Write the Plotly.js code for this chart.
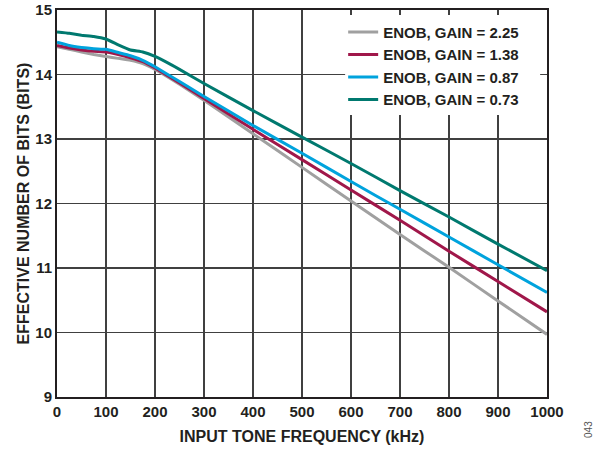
<!DOCTYPE html>
<html>
<head>
<meta charset="utf-8">
<script src="https://cdn.plot.ly/plotly-3.0.1.min.js"></script>
<style>html,body{margin:0;padding:0;background:#fff;}#chart{width:607px;height:450px;}</style>
</head>
<body>
<div id="chart"></div>
<script>
const freq = [0, 25, 50, 75, 100, 125, 150, 175, 200, 250, 300, 400, 500, 600, 700, 800, 900, 1000];
const enobGain225 = [14.43, 14.39, 14.35, 14.31, 14.28, 14.25, 14.22, 14.17, 14.08, 13.85, 13.60, 13.08, 12.56, 12.04, 11.52, 11.01, 10.49, 9.97];
const enobGain138 = [14.45, 14.41, 14.38, 14.36, 14.35, 14.31, 14.26, 14.20, 14.10, 13.87, 13.63, 13.15, 12.68, 12.21, 11.74, 11.26, 10.79, 10.32];
const enobGain087 = [14.50, 14.45, 14.42, 14.40, 14.39, 14.34, 14.29, 14.22, 14.12, 13.89, 13.66, 13.21, 12.78, 12.34, 11.91, 11.48, 11.05, 10.62];
const enobGain073 = [14.66, 14.64, 14.61, 14.59, 14.55, 14.46, 14.38, 14.35, 14.28, 14.08, 13.86, 13.44, 13.03, 12.62, 12.20, 11.79, 11.37, 10.96];
const seriesNames = ["ENOB, GAIN = 2.25", "ENOB, GAIN = 1.38", "ENOB, GAIN = 0.87", "ENOB, GAIN = 0.73"];
const xTicks = [0, 100, 200, 300, 400, 500, 600, 700, 800, 900, 1000];
const yTicks = [9, 10, 11, 12, 13, 14, 15];

const colors = ["#A0A0A0", "#A0174A", "#00A3DD", "#00796F"];
const seriesData = [enobGain225, enobGain138, enobGain087, enobGain073];
const font = "Arial, 'Liberation Sans', sans-serif";
const txt = "#231F20";

const traces = seriesData.map((ys, i) => ({
  x: freq, y: ys, name: seriesNames[i], type: "scatter", mode: "lines",
  line: {color: colors[i], width: 3, shape: "spline", smoothing: 0.3}
}));

const layout = {
  width: 607, height: 450,
  margin: {l: 57, r: 60, t: 10, b: 53},
  paper_bgcolor: "#fff", plot_bgcolor: "#fff",
  font: {family: font, color: txt},
  showlegend: true,
  legend: {
    x: 0.584, y: 0.985, xanchor: "left", yanchor: "top",
    bgcolor: "rgba(255,255,255,0)", borderwidth: 0,
    font: {family: font, size: 15, color: txt, weight: "bold"},
    tracegroupgap: 0, itemwidth: 30
  },
  shapes: [{
    type: "rect", xref: "paper", yref: "paper", layer: "above",
    x0: 0.588, x1: 0.986, y0: 0.729, y1: 0.987,
    fillcolor: "#ffffff", opacity: 1, line: {width: 0}
  }],
  xaxis: {
    range: [0, 1000], tickvals: xTicks, ticktext: xTicks.map(String),
    showgrid: true, gridcolor: "#404040", gridwidth: 1.2,
    showline: true, linecolor: "#231F20", linewidth: 2, mirror: true,
    ticks: "", zeroline: false,
    tickfont: {family: font, size: 15, color: txt, weight: "bold"},
    title: {text: "INPUT TONE FREQUENCY (kHz)", font: {family: font, size: 16, color: txt, weight: "bold"}, standoff: 12}
  },
  yaxis: {
    range: [9, 15], tickvals: yTicks, ticktext: yTicks.map(String),
    showgrid: true, gridcolor: "#404040", gridwidth: 1.2,
    showline: true, linecolor: "#231F20", linewidth: 2, mirror: true,
    ticks: "", zeroline: false,
    tickfont: {family: font, size: 15, color: txt, weight: "bold"},
    title: {text: "EFFECTIVE NUMBER OF BITS (BITS)", font: {family: font, size: 16, color: txt, weight: "bold"}, standoff: 2}
  },
  annotations: [{
    text: "043", xref: "paper", yref: "paper", x: 1.1, y: -0.111,
    showarrow: false, textangle: -90, font: {family: font, size: 10, color: "#555"}
  }]
};

Plotly.newPlot("chart", traces, layout, {staticPlot: true, displayModeBar: false});
</script>
</body>
</html>
